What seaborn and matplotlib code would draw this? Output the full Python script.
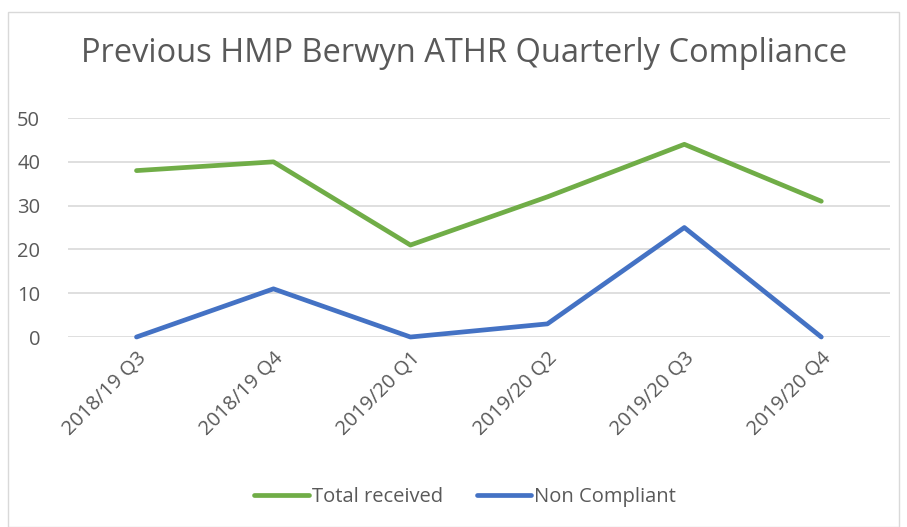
import pandas as pd
import matplotlib.pyplot as plt
import seaborn as sns
from matplotlib.patches import Rectangle

quarters = ['2018/19 Q3', '2018/19 Q4', '2019/20 Q1', '2019/20 Q2', '2019/20 Q3', '2019/20 Q4']
total_received = [38, 40, 21, 32, 44, 31]
non_compliant = [0, 11, 0, 3, 25, 0]
series_names = ['Total received', 'Non Compliant']
series_colors = ['#70AD47', '#4472C4']

df = pd.DataFrame({
    'Quarter': quarters * 2,
    'Value': total_received + non_compliant,
    'Series': [series_names[0]] * len(quarters) + [series_names[1]] * len(quarters),
})
df['x'] = list(range(len(quarters))) * 2

sns.set_style('white')
plt.rcParams['font.family'] = ['Open Sans', 'DejaVu Sans']

fig = plt.figure(figsize=(9.07, 5.27), dpi=100)
fig.patches.append(Rectangle((8 / 907, 0.0), 1 - 16 / 907, 1 - 12 / 527, transform=fig.transFigure,
                             fill=False, edgecolor='#D9D9D9', linewidth=1))
ax = fig.add_axes([0.075, 0.3605, 0.906, 0.4155])

sns.lineplot(data=df, x='x', y='Value', hue='Series', palette=series_colors,
             linewidth=3.4, ax=ax, legend=True)
for line in ax.lines:
    line.set_solid_capstyle('round')
    line.set_clip_on(False)

ax.set_xlim(-0.5, len(quarters) - 0.5)
ax.set_ylim(0, 50)
ax.set_yticks(range(0, 51, 10))
ax.set_xticks(range(len(quarters)))
ax.set_xticklabels(quarters, rotation=45, ha='right', rotation_mode='anchor')
ax.tick_params(axis='both', length=0, labelsize=14.5, labelcolor='#595959')
ax.tick_params(axis='x', pad=8)
ax.tick_params(axis='y', pad=20)
ax.grid(axis='y', color='#D9D9D9', linewidth=1.2)
ax.set_axisbelow(True)
for s in ax.spines.values():
    s.set_visible(False)
ax.set_xlabel('')
ax.set_ylabel('')

fig.text(0.512, 0.899, 'Previous HMP Berwyn ATHR Quarterly Compliance', ha='center', va='center',
         fontsize=23.5, color='#595959')

handles, labels = ax.get_legend_handles_labels()
ax.legend(handles, labels, loc='center', bbox_to_anchor=(0.513, 0.056), bbox_transform=fig.transFigure,
          ncol=2, frameon=False, fontsize=14.5, labelcolor='#595959', handlelength=2.7,
          handletextpad=0.15, columnspacing=1.7)

fig.savefig('out.png', dpi=100)
